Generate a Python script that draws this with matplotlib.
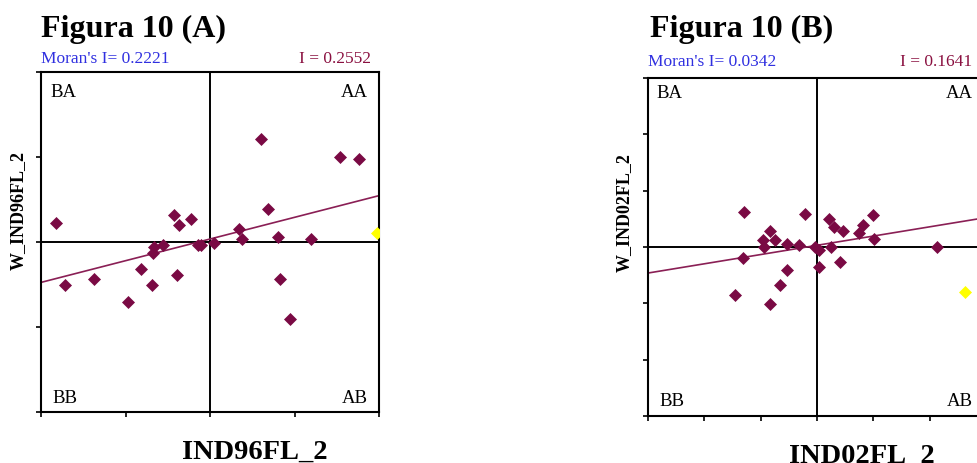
import matplotlib
matplotlib.use("Agg")
import matplotlib.pyplot as plt

W, H = 977, 464

# ---- Figura 10 (A): IND96FL_2 against its spatial lag ----
a_x = [-1.82, -1.72, -1.37, -0.97, -0.82, -0.69, -0.66, -0.67, -0.56, -0.39,
       -0.43, -0.37, -0.23, -0.14, -0.11, 0.05, 0.34, 0.38, 0.60, 0.69,
       0.81, 0.83, 0.95, 1.20, 1.54, 1.76]
a_y = [0.22, -0.51, -0.44, -0.70, -0.32, -0.51, -0.06, -0.13, -0.03, -0.39,
       0.32, 0.20, 0.27, -0.04, -0.03, -0.01, 0.15, 0.04, 1.21, 0.39,
       0.06, -0.44, -0.91, 0.04, 1.00, 0.98]
a_sel_x = [1.98]
a_sel_y = [0.11]
a_moran = 0.2221
a_slope = 0.2552
a_intercept = 0.035
a_ticks = [-2, -1, 0, 1, 2]

# ---- Figura 10 (B): IND02FL_2 against its spatial lag ----
b_x = [-1.29, -1.32, -1.46, -0.83, -0.65, -0.53, -0.95, -0.83, -0.75, -0.94,
       -0.53, -0.32, -0.22, -0.03, 0.03, 0.03, 0.21, 0.31, 0.24, 0.46,
       0.41, 0.74, 0.82, 0.99, 1.02, 2.13]
b_y = [0.63, -0.19, -0.86, -1.01, -0.68, -0.40, 0.13, 0.28, 0.13, 0.00,
       0.06, 0.03, 0.59, 0.00, -0.05, -0.36, 0.50, 0.36, 0.00, 0.28,
       -0.26, 0.24, 0.39, 0.56, 0.15, 0.00]
b_sel_x = [2.63]
b_sel_y = [-0.79]
b_moran = 0.0342
b_slope = 0.1641
b_intercept = 0.03
b_ticks = [-3, -2, -1, 0, 1, 2, 3]

MAROON = "#7A0A44"
LINE = "#8A1F55"
SERIF = "Liberation Serif"


def fx(px):
    return px / W


def fy(py):
    return 1 - py / H


fig = plt.figure(figsize=(W / 100, H / 100), dpi=100)
fig.patch.set_facecolor("white")


def moran_panel(rect, xs, ys, sx, sy, slope, intercept, ticks, lim):
    ax = fig.add_axes(rect)
    ax.set_xlim(-lim, lim)
    ax.set_ylim(-lim, lim)
    for sp in ax.spines.values():
        sp.set_linewidth(1.5)
        sp.set_color("black")
    ax.set_xticks(ticks)
    ax.set_yticks(ticks)
    ax.tick_params(direction="out", length=3.5, width=1.2,
                   labelbottom=False, labelleft=False)
    ax.axhline(0, color="black", lw=1.4, zorder=1)
    ax.axvline(0, color="black", lw=1.4, zorder=1)
    xl = [-lim * 1.1, lim * 1.1]
    ax.plot(xl, [slope * v + intercept for v in xl], color=LINE, lw=1.2, zorder=2)
    ax.plot(xs, ys, linestyle="none", marker="D", ms=6.3, color=MAROON,
            markeredgewidth=0.5, zorder=3)
    ax.plot(sx, sy, linestyle="none", marker="D", ms=6.3, color="#FFFF00",
            markeredgewidth=0.5, zorder=3)
    return ax


ax_a = moran_panel([fx(41), fy(413), fx(379) - fx(41), fy(73) - fy(413)],
                   a_x, a_y, a_sel_x, a_sel_y, a_slope, a_intercept, a_ticks, 2)
ax_b = moran_panel([fx(648), fy(417), fx(986) - fx(648), fy(79) - fy(417)],
                   b_x, b_y, b_sel_x, b_sel_y, b_slope, b_intercept, b_ticks, 3)

# Titles and Moran's I annotations
fig.text(fx(41), fy(37), "Figura 10 (A)", family=SERIF, weight="bold",
         fontsize=23, va="baseline", ha="left")
fig.text(fx(650), fy(37), "Figura 10 (B)", family=SERIF, weight="bold",
         fontsize=23, va="baseline", ha="left")
fig.text(fx(41), fy(63), f"Moran's I= {a_moran:.4f}", family=SERIF,
         fontsize=12.5, color="#3030E0", va="baseline", ha="left")
fig.text(fx(371), fy(63), f"I = {a_slope:.4f}", family=SERIF,
         fontsize=12.5, color="#8A1040", va="baseline", ha="right")
fig.text(fx(648), fy(66), f"Moran's I= {b_moran:.4f}", family=SERIF,
         fontsize=12.5, color="#3030E0", va="baseline", ha="left")
fig.text(fx(972), fy(66), f"I = {b_slope:.4f}", family=SERIF,
         fontsize=12.5, color="#8A1040", va="baseline", ha="right")

# Quadrant labels
quad = dict(family=SERIF, fontsize=13.5, va="baseline")
fig.text(fx(50), fy(97), "BA", ha="left", **quad)
fig.text(fx(368), fy(97), "AA", ha="right", **quad)
fig.text(fx(52), fy(403), "BB", ha="left", **quad)
fig.text(fx(368), fy(403), "AB", ha="right", **quad)
fig.text(fx(656), fy(98), "BA", ha="left", **quad)
fig.text(fx(973), fy(98), "AA", ha="right", **quad)
fig.text(fx(659), fy(406), "BB", ha="left", **quad)
fig.text(fx(973), fy(406), "AB", ha="right", **quad)

# Axis titles
fig.text(fx(18), fy(211), "W_IND96FL_2", family=SERIF, weight="bold",
         fontsize=13, rotation=90, ha="center", va="center")
fig.text(fx(624), fy(213), "W_IND02FL_2", family=SERIF, weight="bold",
         fontsize=13, rotation=90, ha="center", va="center")
fig.text(fx(255), fy(459), "IND96FL_2", family=SERIF, weight="bold",
         fontsize=20.5, ha="center", va="baseline")
fig.text(fx(862), fy(463), "IND02FL_2", family=SERIF, weight="bold",
         fontsize=20.5, ha="center", va="baseline")

fig.savefig("out.png", dpi=100, facecolor="white")
